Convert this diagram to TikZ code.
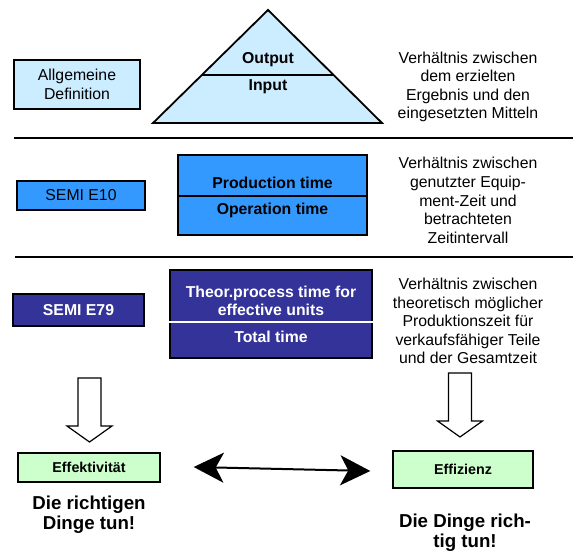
\documentclass[tikz,border=0pt]{standalone}
\usepackage{fontspec}
\setmainfont{Liberation Sans}
\usetikzlibrary{arrows.meta,calc}
\definecolor{lightsky}{HTML}{CCECFF}
\definecolor{semiblue}{HTML}{3399FF}
\definecolor{semiviolet}{HTML}{333399}
\definecolor{palegreen}{HTML}{CCFFCC}
\newcommand{\normtxt}{\fontsize{15.8}{18.6}\selectfont}
\newcommand{\bigtxt}{\fontsize{18.7}{20}\selectfont\bfseries}
\newcommand{\smalltxt}{\fontsize{14.3}{16}\selectfont\bfseries}
\tikzset{
  box/.style={draw, line width=1.4pt, inner sep=0pt, align=center},
  rule/.style={line width=2.2pt},
  comment/.style={align=center, font=\normtxt},
  motto/.style={align=center, font=\bigtxt},
  dblarrow/.style={line width=2pt, {Stealth[length=30pt,width=30pt,inset=8pt]}-{Stealth[length=30pt,width=30pt,inset=8pt]}},
  hollowdown/.pic={
    \draw[line width=1.2pt, fill=white] (-11.5,0) -- (-11.5,48) -- (-22.5,48) -- (0,64)
      -- (22.5,48) -- (11.5,48) -- (11.5,0) -- cycle;
  }
}
\begin{document}
\begin{tikzpicture}[x=1pt, y=-1pt]
    \useasboundingbox (0,0) rectangle (582,553);
    % general definition
    \node[box, fill=lightsky, minimum width=126pt, minimum height=49pt, font=\normtxt] (allg) at (77,84.5) {Allgemeine\\Definition};
    \coordinate (tl) at (153,123);
    \coordinate (tt) at (268,10);
    \coordinate (tr) at (382,123);
    \draw[line width=1.8pt, fill=lightsky, line join=miter] (tl) -- (tt) -- (tr) -- cycle;
    \draw[line width=1.5pt] ($(tl)!0.423!(tt)$) -- ($(tr)!0.423!(tt)$);
    \node[font=\normtxt\bfseries] (output) at (268,60) {Output};
    \node[font=\normtxt\bfseries] (input) at (268,87) {Input};
    \node[comment] (def1) at (468,87) {Verhältnis zwischen\\dem erzielten\\Ergebnis und den\\eingesetzten Mitteln};
    \draw[rule] (14,138) -- (573,138);
    % SEMI E10
    \node[box, fill=semiblue, minimum width=128pt, minimum height=29pt, font=\normtxt] (e10) at (81,195.5) {SEMI E10};
    \node[box, fill=semiblue, minimum width=189pt, minimum height=80pt] (prod) at (272.5,195) {};
    \draw[line width=1.4pt] ([yshift=-1pt]prod.west) -- ([yshift=-1pt]prod.east);
    \node[font=\normtxt\bfseries] (prodtime) at (272.5,183) {Production time};
    \node[font=\normtxt\bfseries] (optime) at (272.5,210) {Operation time};
    \node[comment] (def2) at (468,200.5) {Verhältnis zwischen\\genutzter Equip-\\ment-Zeit und\\betrachteten\\Zeitintervall};
    \draw[rule] (15,257) -- (573,257);
    % SEMI E79
    \node[box, fill=semiviolet, text=white, minimum width=131pt, minimum height=32pt, font=\normtxt\bfseries] (e79) at (78.5,310) {SEMI E79};
    \node[box, fill=semiviolet, minimum width=202pt, minimum height=88pt] (theor) at (271,314) {};
    \draw[white, line width=1.4pt] ([yshift=-8pt]theor.west) -- ([yshift=-8pt]theor.east);
    \node[text=white, align=center, font=\normtxt\bfseries] (theortime) at (271,301) {Theor.process time for\\effective units};
    \node[text=white, font=\normtxt\bfseries] (total) at (271,337) {Total time};
    \node[comment] (def3) at (468,321) {Verhältnis zwischen\\theoretisch möglicher\\Produktionszeit für\\verkaufsfähiger Teile\\und der Gesamtzeit};
    % result
    \pic at (89.5,378) {hollowdown};
    \pic at (460,373) {hollowdown};
    \node[box, fill=palegreen, minimum width=142pt, minimum height=29pt, font=\smalltxt] (effekt) at (89,467.5) {Effektivität};
    \node[box, fill=palegreen, minimum width=140pt, minimum height=37pt, font=\smalltxt] (effiz) at (463,469.5) {Effizienz};
    \draw[dblarrow] ([xshift=33pt,yshift=0.5pt]effekt.east) -- ([xshift=-22pt,yshift=-1.5pt]effiz.west);
    \node[motto] (motto1) at (89,515) {Die richtigen\\Dinge tun!};
    \node[motto] (motto2) at (465,533) {Die Dinge rich-\\tig tun!};
\end{tikzpicture}
\end{document}
